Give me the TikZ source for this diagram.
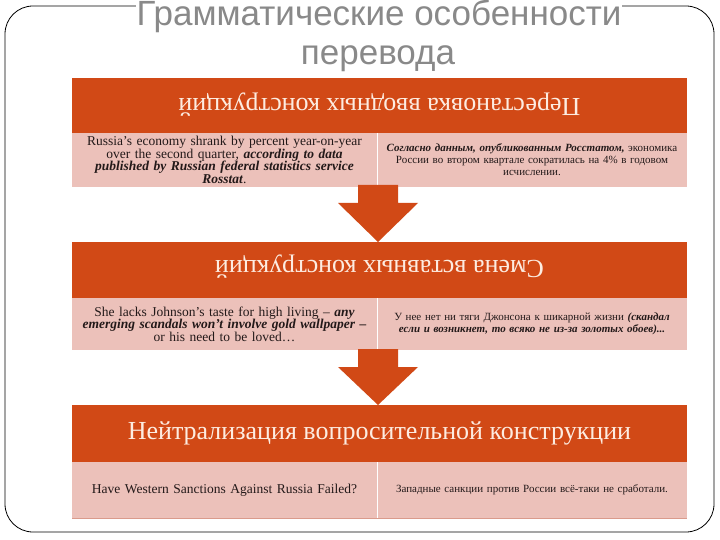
\documentclass[tikz,border=0pt]{standalone}
\usepackage{fontspec}
\setmainfont{Liberation Serif}
\newfontfamily\titlefont{Liberation Sans}
\usetikzlibrary{calc}
\definecolor{hdr}{RGB}{209,73,22}
\definecolor{cell}{RGB}{236,193,186}
\definecolor{hdrtext}{RGB}{253,236,225}
\definecolor{titlegray}{RGB}{137,137,137}
\definecolor{celltext}{RGB}{35,25,25}
\definecolor{cellline}{RGB}{218,155,140}
\begin{document}
\begin{tikzpicture}[x=1pt,y=-1pt,
  hdrbox/.style={fill=hdr, minimum width=615pt, inner sep=0pt, outer sep=0pt, anchor=north west},
  cellbox/.style={fill=cell, inner sep=0pt, outer sep=0pt, anchor=north west, align=center, text=celltext},
  hdrlabel/.style={text=hdrtext, font=\fontsize{26}{28}\selectfont, inner sep=0pt},
  enfont/.style={font=\fontsize{13.5}{12.4}\selectfont},
  rufont/.style={font=\fontsize{11}{12}\selectfont},
  titletext/.style={text=titlegray, anchor=base, inner sep=1pt, font=\titlefont\fontsize{35}{40}\selectfont},
  blockarrow/.style={fill=hdr},
  divider/.style={draw=white, line width=0.8pt},
]
\path[use as bounding box] (0,0) rectangle (720,540);
\draw[rounded corners=28pt, line width=0.8pt] (5,6) rectangle (714,532);
\node[titletext, fill=white] (t1) at (379,26) {Грамматические особенности};
\node[titletext] (t2) at (378,65) {перевода};

% table 1
\node[hdrbox, minimum height=55pt] (hA) at (72,78) {};
\node[hdrlabel, rotate=180] (lA) at ($(hA.center)+(0,-1)$) {Перестановка вводных конструкций};
\node[cellbox, minimum width=305pt, minimum height=54pt, text width=303pt, enfont] (cA1) at (hA.south west)
 {Russia’s economy shrank by percent year-on-year\\ over the second quarter, \textbf{\textit{according to data}}\\ \textbf{\textit{published by Russian federal statistics service}}\\ \textbf{\textit{Rosstat}}.};
\node[cellbox, minimum width=310pt, minimum height=54pt, text width=300pt, rufont] (cA2) at (cA1.north east)
 {\textbf{\textit{Согласно данным, опубликованным Росстатом,}} экономика\\ России во втором квартале сократилась на 4\% в годовом\\ исчислении.};
\draw[divider] (cA1.north east) -- (cA1.south east);

% table 2
\node[hdrbox, minimum height=56pt] (hB) at (72,242) {};
\node[hdrlabel, rotate=180] (lB) at ($(hB.center)+(0,-3)$) {Смена вставных конструкций};
\node[cellbox, minimum width=305pt, minimum height=52pt, text width=303pt, enfont] (cB1) at (hB.south west)
 {She lacks Johnson’s taste for high living – \textbf{\textit{any}}\\ \textbf{\textit{emerging scandals won't involve gold wallpaper –}}\\ or his need to be loved…};
\node[cellbox, minimum width=310pt, minimum height=52pt, text width=300pt, rufont] (cB2) at (cB1.north east)
 {У нее нет ни тяги Джонсона к шикарной жизни \textbf{\textit{(скандал}}\\ \textbf{\textit{если и возникнет, то всяко не из-за золотых обоев)...}}};
\draw[divider] (cB1.north east) -- (cB1.south east);

% table 3
\node[hdrbox, minimum height=57pt] (hC) at (72,405) {};
\node[hdrlabel] (lC) at ($(hC.center)+(0,0)$) {Нейтрализация вопросительной конструкции};
\node[cellbox, minimum width=305pt, minimum height=56pt, text width=303pt, enfont] (cC1) at (hC.south west)
 {Have Western Sanctions Against Russia Failed?\\[4pt]};
\node[cellbox, minimum width=310pt, minimum height=56pt, text width=300pt, rufont] (cC2) at (cC1.north east)
 {Западные санкции против России всё-таки не сработали.\\[4pt]};
\draw[divider] (cC1.north east) -- (cC1.south east);
\draw[draw=cellline, line width=0.8pt] (cC1.south west) -- (cC2.south east);

% arrows
\coordinate (a1) at ($(cA1.south east)+(1,-2)$);
\coordinate (b1) at (a1 |- hB.north);
\fill[blockarrow] ($(a1)+(-20,0)$) -- ($(a1)+(20,0)$) -- ($(a1)+(20,18)$) -- ($(a1)+(40,18)$) -- (b1)
  -- ($(a1)+(-40,18)$) -- ($(a1)+(-20,18)$) -- cycle;
\coordinate (a2) at ($(cB1.south east)+(1,-1)$);
\coordinate (b2) at (a2 |- hC.north);
\fill[blockarrow] ($(a2)+(-20,0)$) -- ($(a2)+(20,0)$) -- ($(a2)+(20,18)$) -- ($(a2)+(40,18)$) -- (b2)
  -- ($(a2)+(-40,18)$) -- ($(a2)+(-20,18)$) -- cycle;
\end{tikzpicture}
\end{document}
